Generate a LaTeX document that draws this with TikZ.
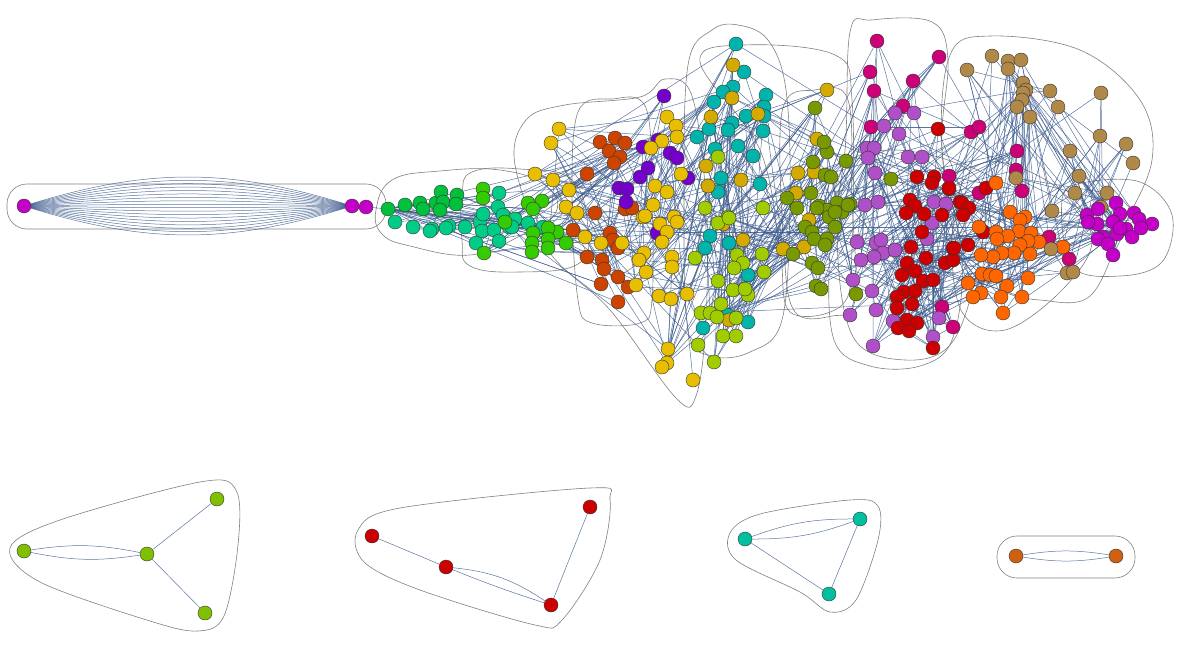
\documentclass[tikz,border=0pt]{standalone}
\usetikzlibrary{backgrounds}
\definecolor{vio}{HTML}{C400C8}
\definecolor{dg}{HTML}{00C03C}
\definecolor{sf}{HTML}{00CC88}
\definecolor{bg}{HTML}{33CC00}
\definecolor{rust}{HTML}{CC4400}
\definecolor{pur}{HTML}{7400CC}
\definecolor{yel}{HTML}{E8BE00}
\definecolor{cy}{HTML}{00B4AC}
\definecolor{dy}{HTML}{D4AA00}
\definecolor{lime}{HTML}{A0CC00}
\definecolor{oli}{HTML}{789A00}
\definecolor{pink}{HTML}{CC0077}
\definecolor{orch}{HTML}{B050C8}
\definecolor{red}{HTML}{CC0000}
\definecolor{ora}{HTML}{FF6600}
\definecolor{brn}{HTML}{B08848}
\definecolor{bl}{HTML}{80C000}
\definecolor{bt}{HTML}{00C0A0}
\definecolor{bo}{HTML}{D06010}
\definecolor{edgec}{HTML}{3E5C8E}
\begin{document}
\begin{tikzpicture}[x=1pt,y=-1pt,
  nd/.style={circle,draw=black!80,line width=0.4pt,minimum size=14pt,inner sep=0pt},
  edge/.style={draw=edgec,line width=0.5pt,draw opacity=0.85},
  hull/.style={draw=black!50,line width=0.6pt}]
\useasboundingbox (0,0) rectangle (1180,652);
\foreach \x/\y/\c [count=\i] in {
24/206/vio, 352/206/vio, 366/207/vio,
388/209/dg, 405/205/dg, 420/203/dg, 423/209/dg, 436/203/dg, 441/192/dg, 443/202/dg, 440/210/dg, 457/195/dg, 456/204/dg,
395/222/sf, 413/227/sf, 432/229/sf, 449/226/sf, 465/227/sf, 430/231/sf, 446/228/sf, 480/222/sf, 483/214/sf, 498/207/sf, 499/193/sf, 503/215/sf, 482/231/sf, 494/230/sf, 509/227/sf, 515/219/sf, 528/223/sf, 543/227/sf, 476/243/sf, 499/241/sf, 512/227/sf,
483/189/bg, 483/198/bg, 528/203/bg, 542/201/bg, 533/209/bg, 557/232/bg, 548/228/bg, 533/233/bg, 532/243/bg, 532/252/bg, 548/239/bg, 548/248/bg, 566/243/bg, 484/253/bg, 505/222/bg,
600/142/rust, 615/138/rust, 625/143/rust, 609/151/rust, 620/157/rust, 614/163/rust, 587/174/rust, 595/213/rust, 573/230/rust, 625/209/rust, 632/208/rust, 610/233/rust, 613/240/rust, 618/248/rust, 587/257/rust, 602/260/rust, 604/269/rust, 601/284/rust, 618/277/rust, 628/287/rust, 618/302/rust,
664/96/pur, 643/147/pur, 658/140/pur, 670/153/pur, 677/158/pur, 648/168/pur, 640/177/pur, 619/188/pur, 627/189/pur, 626/202/pur, 688/178/pur, 657/233/pur,
559/129/yel, 551/143/yel, 535/174/yel, 553/180/yel, 569/190/yel, 566/207/yel, 577/213/yel, 585/237/yel, 601/243/yel, 622/243/yel, 643/217/yel, 653/205/yel, 655/186/yel, 667/192/yel, 660/224/yel, 667/232/yel, 674/217/yel, 677/222/yel, 662/242/yel, 644/253/yel, 639/260/yel, 646/272/yel, 636/285/yel, 659/296/yel, 671/299/yel, 672/257/yel, 672/267/yel, 687/294/yel, 667/117/yel, 676/126/yel, 677/137/yel, 662/141/yel, 651/148/yel, 681/174/yel, 668/349/yel, 667/363/yel, 662/367/yel, 693/380/yel, 645/216/yel,
736/44/cy, 744/72/cy, 733/87/cy, 723/92/cy, 714/102/cy, 766/95/cy, 764/107/cy, 764/116/cy, 746/116/cy, 732/123/cy, 728/130/cy, 709/129/cy, 763/131/cy, 697/137/cy, 715/149/cy, 738/146/cy, 753/156/cy, 721/178/cy, 718/192/cy, 760/184/cy, 710/236/cy, 705/248/cy, 729/243/cy, 748/275/cy, 727/315/cy, 703/328/cy, 748/322/cy,
733/65/dy, 732/98/dy, 711/117/dy, 758/114/dy, 706/166/dy, 708/186/dy, 741/180/dy, 798/173/dy, 796/193/dy, 723/224/dy, 743/240/dy, 827/90/dy, 817/139/dy, 814/172/dy, 809/220/dy, 804/247/dy, 783/249/dy, 729/320/dy,
718/157/lime, 705/208/lime, 763/208/lime, 728/217/lime, 718/223/lime, 729/218/lime, 695/258/lime, 718/281/lime, 737/255/lime, 743/263/lime, 734/268/lime, 762/254/lime, 764/272/lime, 733/290/lime, 748/295/lime, 745/289/lime, 701/313/lime, 710/313/lime, 717/317/lime, 721/304/lime, 736/318/lime, 723/336/lime, 736/336/lime, 698/345/lime, 714/362/lime,
815/108/oli, 827/152/oli, 824/142/oli, 846/161/oli, 813/162/oli, 825/175/oli, 831/177/oli, 811/193/oli, 787/198/oli, 797/208/oli, 819/206/oli, 837/203/oli, 850/204/oli, 842/212/oli, 827/210/oli, 829/217/oli, 817/208/oli, 835/212/oli, 848/205/oli, 835/227/oli, 805/227/oli, 812/232/oli, 827/239/oli, 814/239/oli, 825/245/oli, 793/254/oli, 812/263/oli, 818/268/oli, 816/286/oli, 821/289/oli, 856/294/oli, 891/179/oli,
877/41/pink, 870/72/pink, 874/91/pink, 939/57/pink, 913/81/pink, 903/106/pink, 871/127/pink, 949/176/pink, 971/132/pink, 979/127/pink, 1017/151/pink, 1016/170/pink, 1022/191/pink, 979/193/pink, 1049/237/pink, 1069/259/pink, 942/307/pink, 953/327/pink,
895/113/orch, 914/113/orch, 899/134/orch, 884/126/orch, 867/148/orch, 874/148/orch, 868/158/orch, 908/157/orch, 922/157/orch, 875/173/orch, 865/205/orch, 878/202/orch, 934/202/orch, 946/204/orch, 857/242/orch, 876/243/orch, 881/240/orch, 883/253/orch, 874/257/orch, 861/260/orch, 895/250/orch, 853/280/orch, 872/291/orch, 850/315/orch, 876/310/orch, 873/346/orch, 939/318/orch, 933/337/orch, 932/223/orch, 927/239/orch, 893/321/orch,
938/129/red, 917/177/red, 934/177/red, 932/183/red, 949/189/red, 910/200/red, 915/206/red, 906/213/red, 924/214/red, 942/215/red, 960/202/red, 922/232/red, 911/247/red, 926/258/red, 945/263/red, 953/260/red, 953/248/red, 907/263/red, 902/275/red, 915/271/red, 923/281/red, 933/280/red, 904/292/red, 915/291/red, 897/297/red, 912/304/red, 897/308/red, 907/320/red, 917/323/red, 898/328/red, 909/331/red, 933/348/red, 962/203/red, 969/208/red, 963/215/red, 983/232/red, 968/245/red, 954/248/red, 986/188/red, 949/188/red,
996/183/ora, 1010/212/ora, 1025/217/ora, 1020/220/ora, 979/227/ora, 996/232/ora, 1019/231/ora, 1031/233/ora, 1008/236/ora, 997/239/ora, 1039/242/ora, 1028/241/ora, 1020/245/ora, 1014/253/ora, 1002/253/ora, 993/257/ora, 981/255/ora, 1030/254/ora, 1063/247/ora, 982/274/ora, 990/275/ora, 996/276/ora, 1028/278/ora, 968/283/ora, 981/293/ora, 1007/286/ora, 1001/297/ora, 1022/297/ora, 973/297/ora, 1003/313/ora,
992/56/brn, 1008/61/brn, 1021/60/brn, 1008/69/brn, 967/70/brn, 1023/83/brn, 1026/90/brn, 1023/93/brn, 1022/100/brn, 1017/107/brn, 1030/117/brn, 1050/91/brn, 1058/107/brn, 1101/93/brn, 1100/136/brn, 1126/144/brn, 1133/163/brn, 1070/151/brn, 1079/176/brn, 1075/193/brn, 1107/193/brn, 1016/178/brn, 1052/211/brn, 1051/249/brn, 1067/273/brn, 1073/272/brn, 1101/207/brn,
1087/215/vio, 1098/209/vio, 1116/203/vio, 1120/214/vio, 1097/224/vio, 1088/222/vio, 1113/222/vio, 1134/213/vio, 1139/219/vio, 1152/224/vio, 1126/229/vio, 1117/234/vio, 1132/237/vio, 1141/228/vio, 1103/237/vio, 1098/239/vio, 1108/244/vio, 1113/255/vio, 1120/228/vio}
{\node[nd,fill=\c] (n\i) at (\x,\y) {}; \xdef\N{\i}}
% bottom components
\node[nd,fill=bl] (b1) at (24,551) {};
\node[nd,fill=bl] (b2) at (147,554) {};
\node[nd,fill=bl] (b3) at (217,499) {};
\node[nd,fill=bl] (b4) at (205,613) {};
\node[nd,fill=red] (b5) at (372,536) {};
\node[nd,fill=red] (b6) at (446,567) {};
\node[nd,fill=red] (b7) at (551,605) {};
\node[nd,fill=red] (b8) at (590,507) {};
\node[nd,fill=bt] (b9) at (745,539) {};
\node[nd,fill=bt] (b10) at (860,519) {};
\node[nd,fill=bt] (b11) at (829,594) {};
\node[nd,fill=bo] (b12) at (1016,556) {};
\node[nd,fill=bo] (b13) at (1116,556) {};
\begin{pgfonlayer}{background}
% hulls
\draw[hull,rounded corners=20] (7,184) rectangle (386,229);
\draw[hull] plot[smooth cycle,tension=0.7] coordinates {(376,210) (392,180) (440,171) (500,170) (545,185) (556,212) (520,236) (470,255) (410,246) (382,234)};
\draw[hull] plot[smooth cycle,tension=0.7] coordinates {(462,195) (472,172) (520,169) (572,180) (588,230) (578,264) (520,272) (470,266) (462,240)};
\draw[hull] plot[smooth cycle,tension=0.6] coordinates {(515,165) (526,120) (565,105) (640,97) (665,79) (692,96) (706,200) (706,320) (696,396) (676,398) (610,310) (548,250)};
\draw[hull] plot[smooth cycle,tension=0.6] coordinates {(578,112) (612,99) (646,108) (652,200) (652,300) (640,323) (592,323) (578,300) (572,200)};
\draw[hull] plot[smooth cycle,tension=0.6] coordinates {(688,65) (712,30) (738,25) (768,40) (786,90) (790,200) (782,320) (750,352) (712,356) (688,330) (684,200)};
\draw[hull] plot[smooth cycle,tension=0.6] coordinates {(700,62) (745,45) (835,55) (852,100) (852,250) (842,305) (790,312) (780,250) (760,150)};
\draw[hull] plot[smooth cycle,tension=0.6] coordinates {(782,112) (815,90) (848,100) (852,200) (855,300) (832,316) (795,312) (784,250)};
\draw[hull] plot[smooth cycle,tension=0.6] coordinates {(850,32) (872,20) (932,22) (948,60) (942,150) (962,260) (952,340) (920,366) (870,366) (834,340) (830,250) (845,150)};
\draw[hull] plot[smooth cycle,tension=0.6] coordinates {(845,170) (890,150) (960,165) (985,200) (975,280) (950,345) (905,360) (855,340) (838,260)};
\draw[hull] plot[smooth cycle,tension=0.6] coordinates {(950,55) (990,36) (1080,50) (1140,100) (1152,160) (1122,230) (1090,296) (1040,300) (1000,290) (962,262) (942,150)};
\draw[hull] plot[smooth cycle,tension=0.6] coordinates {(965,178) (1000,162) (1060,190) (1092,240) (1062,290) (1005,330) (962,312) (952,240)};
\draw[hull] plot[smooth cycle,tension=0.6] coordinates {(1062,200) (1082,183) (1140,182) (1172,215) (1162,262) (1120,276) (1072,266)};
\draw[hull] plot[smooth cycle,tension=0.55] coordinates {(10,548) (60,520) (200,482) (236,490) (238,545) (224,616) (198,631) (150,621) (40,582)};
\draw[hull] plot[smooth cycle,tension=0.55] coordinates {(358,530) (400,508) (590,488) (610,500) (600,560) (562,620) (535,625) (420,590) (364,562)};
\draw[hull] plot[smooth cycle,tension=0.55] coordinates {(730,533) (760,514) (850,500) (878,506) (878,540) (856,600) (830,612) (800,592) (736,560)};
\draw[hull,rounded corners=20] (997,536) rectangle (1135,578);
% special edges
\foreach \b in {-17,-15,-13,-11,-9,-7,-5,-3,-1,1,3,5,7,9,11,13,15,17}
  \draw[edge] (n1) to[bend left=\b] (n2);
\draw[edge] (n2) -- (n3);
\draw[edge] (n3) -- (n4);
% network edges
\pgfmathsetseed{4242}
\foreach \k in {1,...,750}{
  \pgfmathrandominteger{\a}{4}{\N}
  \pgfmathrandominteger{\d}{-40}{40}
  \pgfmathtruncatemacro{\bb}{max(4,min(\N,\a+\d))}
  \ifnum\a=\bb\relax\else\draw[edge] (n\a) -- (n\bb);\fi
}
\foreach \k in {1,...,220}{
  \pgfmathrandominteger{\a}{40}{\N}
  \pgfmathrandominteger{\d}{-130}{130}
  \pgfmathtruncatemacro{\bb}{max(4,min(\N,\a+\d))}
  \ifnum\a=\bb\relax\else\draw[edge] (n\a) -- (n\bb);\fi
}
% bottom edges
\draw[edge] (b1) to[bend left=10] (b2);
\draw[edge] (b1) to[bend right=10] (b2);
\draw[edge] (b2) -- (b3);
\draw[edge] (b2) -- (b4);
\draw[edge] (b5) -- (b6);
\draw[edge] (b6) to[bend left=14] (b7);
\draw[edge] (b6) to[bend right=2] (b7);
\draw[edge] (b7) -- (b8);
\draw[edge] (b9) to[bend left=10] (b10);
\draw[edge] (b9) to[bend right=10] (b10);
\draw[edge] (b9) -- (b11);
\draw[edge] (b10) -- (b11);
\draw[edge] (b12) to[bend left=9] (b13);
\draw[edge] (b12) to[bend right=9] (b13);
\end{pgfonlayer}
\end{tikzpicture}
\end{document}
